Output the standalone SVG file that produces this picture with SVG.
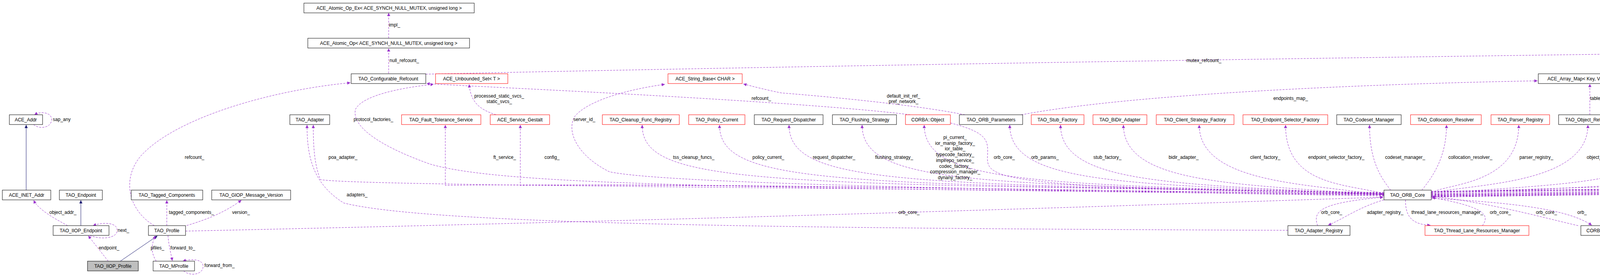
<svg xmlns="http://www.w3.org/2000/svg" width="7075" height="707" viewBox="0 0 7075 707">
<style>
.n rect{fill:#fff;stroke:#000;stroke-width:1}
.n.r rect{stroke:#ff0000}
.n.g rect{fill:#bfbfbf}
text{font-family:"Liberation Sans",Arial,sans-serif;font-size:12px;fill:#000;text-anchor:middle}
.e path{fill:none;stroke:#9a32cd;stroke-width:1;stroke-dasharray:5,3;marker-end:url(#a)}
.e path.i{stroke:#191970;stroke-dasharray:none;marker-end:url(#b)}
</style>
<defs>
<marker id="a" viewBox="0 0 10 10" refX="10" refY="5" markerWidth="10" markerHeight="8" markerUnits="userSpaceOnUse" orient="auto"><path d="M0,0L10,5L0,10z" fill="#9a32cd"/></marker>
<marker id="b" viewBox="0 0 10 10" refX="10" refY="5" markerWidth="10" markerHeight="8" markerUnits="userSpaceOnUse" orient="auto"><path d="M0,0L10,5L0,10z" fill="#191970"/></marker>
</defs>
<rect width="7075" height="707" fill="#fff"/>
<g class="e" id="edges">
<path d="M995,98L995,33"/>
<path d="M995,188L995,124"/>
<path d="M1090,190C2000,170 4000,135 6531,111"/>
<path d="M2330,294C2100,265 1500,235 1300,225C1180,219 1120,216 1092,214"/>
<path d="M3543,500C2000,480 1300,480 1100,420C960,370 900,320 910,280C930,240 1050,222 1110,216"/>
<path d="M3543,497C2000,480 900,475 820,460C805,420 802,380 802,320"/>
<path d="M3297,590C2000,585 1100,575 880,520C800,470 786,400 786,320"/>
<path d="M475,592C1500,570 2500,540 3541,505"/>
<path d="M395,578C330,540 310,460 360,400C450,300 700,230 897,212"/>
<path class="i" d="M67,487L67,320"/>
<path d="M86,319C100,332 132,328 132,306C132,288 105,284 88,294"/>
<path d="M173,578C150,565 100,540 86,513"/>
<path class="i" d="M207,578L207,513"/>
<path d="M230,603C255,614 300,612 300,590C300,570 265,568 238,578"/>
<path d="M277,669L226,604"/>
<path class="i" d="M308,669L403,604"/>
<path d="M427,578L427,513"/>
<path d="M470,580C540,560 580,540 618,513"/>
<path d="M400,669C388,650 385,630 398,604"/>
<path d="M430,603C432,630 438,650 441,668"/>
<path d="M470,694C490,710 520,702 520,682C520,664 490,662 468,669"/>
<path d="M1270,294C1225,280 1205,260 1201,216"/>
<path d="M3543,499C2400,480 1650,470 1332,475L1332,320"/>
<path d="M3543,498C2400,480 1440,470 1140,475L1140,320"/>
<path d="M3543,502C2500,485 1700,470 1560,440C1480,400 1450,340 1470,300C1500,260 1600,230 1702,216"/>
<path d="M2470,294C2350,270 2150,250 2000,238C1960,230 1930,222 1903,215"/>
<path d="M2615,294C2900,240 3500,215 3936,207"/>
<path d="M2433,315C2530,340 2530,360 2528,400C2525,460 2550,480 3541,497"/>
<path d="M3543,493C1944,470 1644,475 1644,320"/>
<path d="M3543,494C2142,470 1842,475 1842,320"/>
<path d="M3543,495C2320,470 2020,475 2020,320"/>
<path d="M3543,496C2507,470 2207,475 2207,320"/>
<path d="M3543,497C2666,470 2366,475 2366,320"/>
<path d="M3543,498C2885,470 2585,475 2585,320"/>
<path d="M3543,499C3015,470 2715,475 2715,320"/>
<path d="M3543,500C3176,470 2876,475 2876,320"/>
<path d="M3543,501C3370,470 3070,475 3070,320"/>
<path d="M3543,496C3441,470 3291,475 3291,320"/>
<path d="M3560,487C3540,460 3506,420 3506,320"/>
<path d="M3640,487C3670,450 3703,400 3703,320"/>
<path d="M3664,494C3700,470 3888,475 3888,320"/>
<path d="M3664,495C3765,470 4065,475 4065,320"/>
<path d="M3664,496C3993,470 4293,475 4293,320"/>
<path d="M3664,497C4240,470 4540,475 4540,320"/>
<path d="M3664,498C4533,470 4833,475 4833,320"/>
<path d="M3664,499C4854,470 5154,475 5154,320"/>
<path d="M3664,500C5134,470 5434,475 5434,320"/>
<path d="M3664,501C5350,470 5650,475 5650,320"/>
<path d="M3664,502C5543,470 5843,475 5843,320"/>
<path d="M3664,503C5712,470 6012,475 6012,320"/>
<path d="M3664,504C5955,470 6255,475 6255,320"/>
<path d="M3664,505C6138,470 6438,475 6438,320"/>
<path d="M4070,294L4070,215"/>
<path d="M3664,493C4000,480 4620,470 4645,440L4650,330C4645,270 4500,225 4205,208"/>
<path d="M3373,578C3360,540 3380,520 3541,505"/>
<path d="M3543,512C3480,530 3440,560 3400,577"/>
<path d="M3598,512C3598,550 3610,575 3662,577"/>
<path d="M3795,578C3815,550 3800,530 3666,506"/>
<path d="M4040,578C3960,560 3820,520 3666,503"/>
<path d="M3664,508C3900,520 4020,540 4075,577"/>
<path d="M4152,597C5000,590 6300,540 6560,520C6700,490 6810,470 6835,440C6860,400 6880,360 6877,321"/>
<path d="M4152,599C5500,590 6800,540 6990,500L7013,495L7013,200C7010,160 6950,140 6838,125"/>
<path d="M6270,294C6320,260 6370,230 6395,215"/>
<path d="M3664,492C5000,475 6500,470 6560,440C6580,400 6580,330 6560,280C6520,240 6480,225 6460,215"/>
<path d="M3664,490C5000,472 6550,470 6600,440C6650,380 6700,300 6717,124"/>
<path d="M3664,491C5000,475 6650,475 6680,460C6700,440 6690,360 6752,320"/>
<path d="M6860,319C6880,330 6905,320 6905,305C6905,288 6870,284 6846,294"/>
<path d="M4880,319C4900,330 4935,325 4935,305C4935,285 4890,283 4868,294"/>
</g>
<g id="labels">
<text x="1010" y="68">impl_</text>
<text x="1035" y="159">null_refcount_</text>
<text x="3082" y="159">mutex_refcount_</text>
<text x="6734" y="68">impl_</text>
<text x="158" y="310">sap_any</text>
<text x="956" y="310">protocol_factories_</text>
<text x="498" y="407">refcount_</text>
<text x="878" y="407">poa_adapter_</text>
<text x="161" y="548">object_addr_</text>
<text x="914" y="503">adapters_</text>
<text x="490" y="548">tagged_components_</text>
<text x="617" y="548">version_</text>
<text x="316" y="594">next_</text>
<text x="279" y="639">endpoint_</text>
<text x="403" y="639">pfiles_</text>
<text x="468" y="639">forward_to_</text>
<text x="562" y="684">forward_from_</text>
<text x="1278" y="250">processed_static_svcs_</text>
<text x="1278" y="264">static_svcs_</text>
<text x="1949" y="256">refcount_</text>
<text x="1496" y="310">server_id_</text>
<text x="2313" y="250">default_init_ref_</text>
<text x="2313" y="264">pref_network_</text>
<text x="1292" y="407">ft_service_</text>
<text x="1413" y="407">config_</text>
<text x="1776" y="407">tss_cleanup_funcs_</text>
<text x="1967" y="407">policy_current_</text>
<text x="2135" y="407">request_dispatcher_</text>
<text x="2289" y="407">flushing_strategy_</text>
<text x="2327" y="548">orb_core_</text>
<text x="3304" y="256">endpoints_map_</text>
<text x="2445" y="356">pi_current_</text>
<text x="2445" y="371">ior_manip_factory_</text>
<text x="2445" y="385">ior_table_</text>
<text x="2445" y="400">typecode_factory_</text>
<text x="2445" y="415">implrepo_service_</text>
<text x="2445" y="430">codec_factory_</text>
<text x="2445" y="444">compression_manager_</text>
<text x="2445" y="459">dynany_factory_</text>
<text x="2571" y="407">orb_core_</text>
<text x="2675" y="407">orb_params_</text>
<text x="2835" y="407">stub_factory_</text>
<text x="3030" y="407">bidir_adapter_</text>
<text x="3239" y="407">client_factory_</text>
<text x="3421" y="407">endpoint_selector_factory_</text>
<text x="3597" y="407">codeset_manager_</text>
<text x="3409" y="548">orb_core_</text>
<text x="3546" y="548">adapter_registry_</text>
<text x="3705" y="548">thread_lane_resources_manager_</text>
<text x="3841" y="548">orb_core_</text>
<text x="3959" y="548">orb_core_</text>
<text x="4050" y="548">orb_</text>
<text x="4087" y="256">table_</text>
<text x="3764" y="407">collocation_resolver_</text>
<text x="3933" y="407">parser_registry_</text>
<text x="4108" y="407">object_ref_table_</text>
<text x="4382" y="407">network_priority_protocols_hooks_</text>
<text x="4587" y="407">protocols_hooks_</text>
<text x="4680" y="310">init_ref_map_</text>
<text x="4981" y="310">thr_mgr_</text>
<text x="4833" y="407">tm_</text>
<text x="5171" y="407">data_block_lock_</text>
<text x="5462" y="407">server_factory_</text>
<text x="5690" y="407">resource_factory_</text>
<text x="5893" y="407">valuetype_adapter_</text>
<text x="6376" y="256">impl_</text>
<text x="6727" y="256">refcount_</text>
<text x="6603" y="310">default_policies_</text>
<text x="7041" y="310">refcount_</text>
<text x="6936" y="302">max_time</text>
<text x="6936" y="317">zero</text>
<text x="6114" y="407">ior_interceptor_adapter_</text>
<text x="6301" y="407">policy_manager_</text>
<text x="6470" y="385">rt_orb_</text>
<text x="6470" y="400">poa_current_</text>
<text x="6470" y="414">rt_current_</text>
<text x="6470" y="429">root_poa_</text>
<text x="6803" y="407">thread_per_connection_timeout_</text>
<text x="6857" y="503">timeout_</text>
</g>
<g class="n" id="n1"><rect x="778" y="8" width="436" height="25"/><text x="996" y="25">ACE_Atomic_Op_Ex&lt; ACE_SYNCH_NULL_MUTEX, unsigned long &gt;</text></g>
<g class="n" id="n2"><rect x="788" y="98" width="414" height="25"/><text x="995" y="115">ACE_Atomic_Op&lt; ACE_SYNCH_NULL_MUTEX, unsigned long &gt;</text></g>
<g class="n" id="n3"><rect x="6522" y="8" width="393" height="25"/><text x="6718" y="25">ACE_Atomic_Op_Ex&lt; TAO_SYNCH_MUTEX, unsigned long &gt;</text></g>
<g class="n" id="n4"><rect x="6532" y="98" width="372" height="25"/><text x="6718" y="115">ACE_Atomic_Op&lt; TAO_SYNCH_MUTEX, unsigned long &gt;</text></g>
<g class="n" id="n5"><rect x="899" y="189" width="191" height="25"/><text x="994" y="206">TAO_Configurable_Refcount</text></g>
<g class="n r" id="n6"><rect x="1115" y="189" width="185" height="25"/><text x="1207" y="206">ACE_Unbounded_Set&lt; T &gt;</text></g>
<g class="n r" id="n7"><rect x="1710" y="189" width="190" height="25"/><text x="1805" y="206">ACE_String_Base&lt; CHAR &gt;</text></g>
<g class="n" id="n8"><rect x="3938" y="189" width="264" height="25"/><text x="4070" y="206">ACE_Array_Map&lt; Key, Value, EqualTo &gt;</text></g>
<g class="n r" id="n9"><rect x="6360" y="189" width="119" height="25"/><text x="6419" y="206">TAO_Policy_Set</text></g>
<g class="n" id="n10"><rect x="24" y="294" width="85" height="25"/><text x="66" y="311">ACE_Addr</text></g>
<g class="n" id="n11"><rect x="742" y="294" width="102" height="25"/><text x="793" y="311">TAO_Adapter</text></g>
<g class="n r" id="n12"><rect x="1028" y="294" width="203" height="25"/><text x="1129" y="311">TAO_Fault_Tolerance_Service</text></g>
<g class="n r" id="n13"><rect x="1255" y="294" width="152" height="25"/><text x="1331" y="311">ACE_Service_Gestalt</text></g>
<g class="n r" id="n14"><rect x="1542" y="294" width="197" height="25"/><text x="1640" y="311">TAO_Cleanup_Func_Registry</text></g>
<g class="n r" id="n15"><rect x="1763" y="294" width="144" height="25"/><text x="1835" y="311">TAO_Policy_Current</text></g>
<g class="n" id="n16"><rect x="1931" y="294" width="176" height="25"/><text x="2019" y="311">TAO_Request_Dispatcher</text></g>
<g class="n" id="n17"><rect x="2131" y="294" width="164" height="25"/><text x="2213" y="311">TAO_Flushing_Strategy</text></g>
<g class="n r" id="n18"><rect x="2318" y="294" width="115" height="25"/><text x="2375" y="311">CORBA::Object</text></g>
<g class="n" id="n19"><rect x="2456" y="294" width="162" height="25"/><text x="2537" y="311">TAO_ORB_Parameters</text></g>
<g class="n r" id="n20"><rect x="2640" y="294" width="135" height="25"/><text x="2707" y="311">TAO_Stub_Factory</text></g>
<g class="n r" id="n21"><rect x="2798" y="294" width="138" height="25"/><text x="2867" y="311">TAO_BiDir_Adapter</text></g>
<g class="n r" id="n22"><rect x="2960" y="294" width="199" height="25"/><text x="3059" y="311">TAO_Client_Strategy_Factory</text></g>
<g class="n r" id="n23"><rect x="3182" y="294" width="217" height="25"/><text x="3290" y="311">TAO_Endpoint_Selector_Factory</text></g>
<g class="n" id="n24"><rect x="3422" y="294" width="165" height="25"/><text x="3504" y="311">TAO_Codeset_Manager</text></g>
<g class="n r" id="n25"><rect x="3611" y="294" width="181" height="25"/><text x="3701" y="311">TAO_Collocation_Resolver</text></g>
<g class="n r" id="n26"><rect x="3817" y="294" width="150" height="25"/><text x="3892" y="311">TAO_Parser_Registry</text></g>
<g class="n" id="n27"><rect x="3990" y="294" width="161" height="25"/><text x="4070" y="311">TAO_Object_Ref_Table</text></g>
<g class="n r" id="n28"><rect x="4174" y="294" width="262" height="25"/><text x="4305" y="311">TAO_Network_Priority_Protocols_Hooks</text></g>
<g class="n r" id="n29"><rect x="4459" y="294" width="157" height="25"/><text x="4537" y="311">TAO_Protocols_Hooks</text></g>
<g class="n r" id="n30"><rect x="4770" y="294" width="160" height="25"/><text x="4850" y="311">ACE_Thread_Manager</text></g>
<g class="n r" id="n31"><rect x="5034" y="294" width="296" height="25"/><text x="5182" y="311">ACE_Lock_Adapter&lt; TAO_SYNCH_MUTEX &gt;</text></g>
<g class="n r" id="n32"><rect x="5353" y="294" width="205" height="25"/><text x="5455" y="311">TAO_Server_Strategy_Factory</text></g>
<g class="n r" id="n33"><rect x="5580" y="294" width="164" height="25"/><text x="5662" y="311">TAO_Resource_Factory</text></g>
<g class="n r" id="n34"><rect x="5767" y="294" width="168" height="25"/><text x="5851" y="311">TAO_Valuetype_Adapter</text></g>
<g class="n" id="n35"><rect x="5959" y="294" width="197" height="25"/><text x="6057" y="311">TAO_IORInterceptor_Adapter</text></g>
<g class="n r" id="n36"><rect x="6180" y="294" width="153" height="25"/><text x="6256" y="311">TAO_Policy_Manager</text></g>
<g class="n r" id="n37"><rect x="6356" y="294" width="176" height="25"/><text x="6444" y="311">TAO_Pseudo_Var_T&lt; T &gt;</text></g>
<g class="n" id="n38"><rect x="6755" y="294" width="127" height="25"/><text x="6818" y="311">ACE_Time_Value</text></g>
<g class="n" id="n39"><rect x="6" y="487" width="124" height="25"/><text x="68" y="504">ACE_INET_Addr</text></g>
<g class="n" id="n40"><rect x="152" y="487" width="110" height="25"/><text x="207" y="504">TAO_Endpoint</text></g>
<g class="n" id="n41"><rect x="336" y="487" width="183" height="25"/><text x="427" y="504">TAO_Tagged_Components</text></g>
<g class="n" id="n42"><rect x="542" y="487" width="202" height="25"/><text x="643" y="504">TAO_GIOP_Message_Version</text></g>
<g class="n" id="n43"><rect x="3543" y="487" width="121" height="25"/><text x="3603" y="504">TAO_ORB_Core</text></g>
<g class="n" id="n44"><rect x="136" y="578" width="143" height="25"/><text x="207" y="595">TAO_IIOP_Endpoint</text></g>
<g class="n" id="n45"><rect x="380" y="578" width="95" height="25"/><text x="427" y="595">TAO_Profile</text></g>
<g class="n" id="n46"><rect x="3297" y="578" width="159" height="25"/><text x="3376" y="595">TAO_Adapter_Registry</text></g>
<g class="n r" id="n47"><rect x="3648" y="578" width="266" height="25"/><text x="3781" y="595">TAO_Thread_Lane_Resources_Manager</text></g>
<g class="n" id="n48"><rect x="4047" y="578" width="105" height="25"/><text x="4099" y="595">CORBA::ORB</text></g>
<g class="n g" id="n49"><rect x="224" y="669" width="130" height="25"/><text x="289" y="686">TAO_IIOP_Profile</text></g>
<g class="n" id="n50"><rect x="392" y="669" width="106" height="25"/><text x="445" y="686">TAO_MProfile</text></g>
</svg>
